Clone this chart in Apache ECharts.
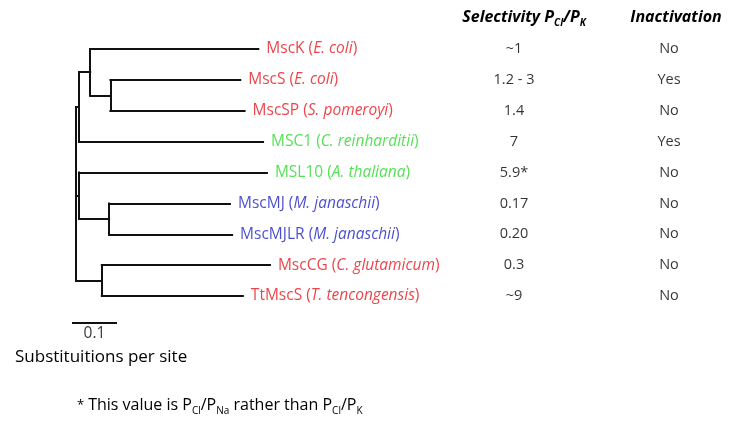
<!DOCTYPE html>
<html><head><meta charset="utf-8">
<script src="https://cdn.jsdelivr.net/npm/echarts@6/dist/echarts.min.js"></script>
<style>html,body{margin:0;padding:0;background:#fff}#c{width:737px;height:428px}</style>
</head><body><div id="c"></div>
<script>
// ---- data ----
const leafNames = ['MscK','MscS','MscSP','MSC1','MSL10','MscMJ','MscMJLR','MscCG','TtMscS'];
const leafSpecies = ['E. coli','E. coli','S. pomeroyi','C. reinharditii','A. thaliana','M. janaschii','M. janaschii','C. glutamicum','T. tencongensis'];
const leafGroup = ['red','red','red','green','green','blue','blue','red','red'];
const selectivity = ['~1','1.2 - 3','1.4','7','5.9*','0.17','0.20','0.3','~9'];
const inactivation = ['No','Yes','No','Yes','No','No','No','No','No'];
const tableHeaders = ['Selectivity', 'Inactivation'];
// tree topology: node, parent, branch length (substitutions per site)
const nodeIds      = ['root','A','B','MscK','C','MscS','MscSP','MSC1','D','MSL10','E','MscMJ','MscMJLR','F','MscCG','TtMscS'];
const nodeParents  = [null,'root','A','B','B','C','C','A','root','D','D','E','E','root','F','F'];
const branchLength = [0,0.007,0.026,0.391,0.047,0.302,0.312,0.428,0.007,0.437,0.070,0.281,0.286,0.060,0.391,0.328];
const scaleBarLength = 0.1;

// ---- build tree geometry ----
const groupColor = {red:'#e8141c', green:'#2cd82c', blue:'#1c1fc0'};
const nodes = {};
nodeIds.forEach((id,i)=>{ nodes[id] = {id, parent:nodeParents[i], len:branchLength[i], children:[]}; });
nodeIds.forEach(id=>{ const p = nodes[id].parent; if (p) nodes[p].children.push(id); });
function setX(id, px){ const n = nodes[id]; n.x = px + n.len; n.children.forEach(c=>setX(c, n.x)); }
setX('root', 0);
function setY(id){ const n = nodes[id];
  if (!n.children.length){ n.y = leafNames.indexOf(id); return n.y; }
  const ys = n.children.map(setY); n.y = (ys[0] + ys[ys.length-1]) / 2; return n.y; }
setY('root');
const segs = [];
nodeIds.forEach(id=>{ const n = nodes[id];
  if (n.parent){ segs.push({coords:[[nodes[n.parent].x, n.y],[n.x, n.y]]}); }
  if (n.children.length){ const ys = n.children.map(c=>nodes[c].y);
    segs.push({coords:[[n.x, Math.min(...ys)],[n.x, Math.max(...ys)]]}); }
});
const scaleY = 8.87, scaleX0 = -0.007;
segs.push({coords:[[scaleX0, scaleY],[scaleX0 + scaleBarLength, scaleY]]});

const FONT = '"Open Sans"';
const LS = 15.5;
const leafData = leafNames.map((name,i)=>{
  const col = groupColor[leafGroup[i]];
  return {value:[nodes[name].x, i], label:{color:col,
    formatter:'{n|'+name+' (}{i|'+leafSpecies[i]+'}{n|)}',
    rich:{n:{color:col,fontFamily:FONT,fontSize:LS}, i:{color:col,fontFamily:FONT,fontSize:LS,fontStyle:'italic'}}}};
});
const tableData = [];
selectivity.forEach((v,i)=>tableData.push({value:[0,i], label:{formatter:v}}));
inactivation.forEach((v,i)=>tableData.push({value:[1,i], label:{formatter:v}}));

const hdr = {fontFamily:FONT, fontSize:16, fontWeight:'bold', fontStyle:'italic', color:'#000', lineHeight:22, verticalAlign:'middle'};
const sub = {fontFamily:FONT, fontSize:10, fontWeight:'bold', fontStyle:'italic', color:'#000', lineHeight:10, verticalAlign:'bottom'};

const chart = echarts.init(document.getElementById('c'), null, {renderer:'canvas'});
chart.setOption({
  animation:false,
  backgroundColor:'#fff',
  title:[
    {text:'Substituitions per site', left:10, top:344, textStyle:{fontFamily:FONT, fontSize:17, fontWeight:'normal', color:'#000'}},
    {text:'{a|*}This value is P{s|Cl}/P{s|Na} rather than P{s|Cl}/P{s|K}', left:72, top:389,
     textStyle:{fontFamily:FONT, fontSize:16, fontWeight:'normal', color:'#000', lineHeight:22,
       rich:{s:{fontFamily:FONT, fontSize:10, color:'#000', lineHeight:10, verticalAlign:'bottom'},
             a:{fontFamily:FONT, fontSize:13, color:'#000', lineHeight:22, verticalAlign:'middle', padding:[0,4,0,0]}}}}
  ],
  grid:[
    {left:76, width:430, top:49, height:247},
    {left:514, right:68, top:49, height:247}
  ],
  xAxis:[
    {gridIndex:0, type:'value', min:0, max:1, show:false},
    {gridIndex:1, type:'category', data:tableHeaders, boundaryGap:false, position:'top',
     axisLine:{show:false}, axisTick:{show:false}, splitLine:{show:false},
     axisLabel:{margin:21, interval:0,
       formatter:(v,i)=> i===0 ? '{h1|Selectivity P}{s|Cl}{h|/P}{s|K}' : '{h2|Inactivation}',
       rich:{h:hdr, h1:Object.assign({},hdr,{padding:[0,0,0,20]}), h2:Object.assign({},hdr,{padding:[0,0,0,14]}), s:sub}}}
  ],
  yAxis:[
    {gridIndex:0, type:'value', min:0, max:8, inverse:true, show:false},
    {gridIndex:1, type:'value', min:0, max:8, inverse:true, show:false}
  ],
  series:[
    {type:'lines', coordinateSystem:'cartesian2d', xAxisIndex:0, yAxisIndex:0, clip:false, silent:true,
     lineStyle:{color:'#111', width:2, opacity:1, cap:'square'}, data:segs},
    {type:'scatter', xAxisIndex:0, yAxisIndex:0, symbolSize:0, clip:false, silent:true,
     label:{show:true, position:'right', distance:8}, data:leafData},
    {type:'scatter', xAxisIndex:0, yAxisIndex:0, symbolSize:0, clip:false, silent:true,
     label:{show:true, position:'bottom', distance:3, formatter:String(scaleBarLength), fontFamily:FONT, fontSize:15.5, color:'#000'},
     data:[[scaleX0 + scaleBarLength/2, scaleY]]},
    {type:'scatter', xAxisIndex:1, yAxisIndex:1, symbolSize:0, silent:true,
     label:{show:true, position:'inside', fontFamily:FONT, fontSize:14.5, color:'#000'}, data:tableData}
  ]
});
</script></body></html>
